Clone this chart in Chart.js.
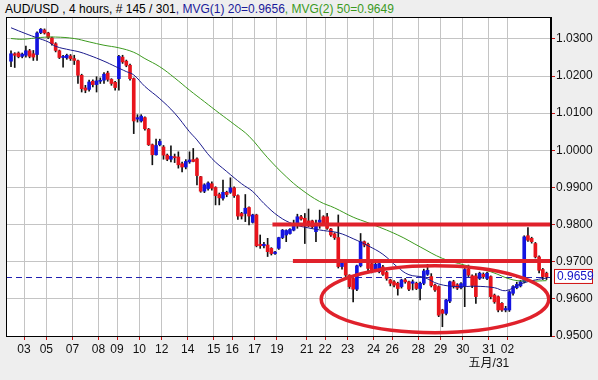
<!DOCTYPE html>
<html>
<head>
<meta charset="utf-8">
<script src="https://cdn.jsdelivr.net/npm/chart.js@4/dist/chart.umd.min.js"></script>
<style>
  body { margin: 0; background: #eeeeee; }
  #wrap { position: relative; width: 598px; height: 380px; }
  #title { position: absolute; left: 5px; top: 2px; font: 12px 'Liberation Sans', Arial, sans-serif; white-space: nowrap; }
  #plotbg { position: absolute; left: 6px; top: 17px; width: 545px; height: 319px; background: #ffffff; }
  canvas { position: absolute; left: 0; top: 0; }
</style>
</head>
<body>
<div id="wrap">
  <div id="title"><span style="color:#000">AUD/USD , 4 hours, # 145 / 301</span><span style="color:#1a1a9a">, MVG(1) 20=0.9656</span><span style="color:#3c9a1e">, MVG(2) 50=0.9649</span></div>
  <div id="plotbg"></div>
  <canvas id="c" width="598" height="380"></canvas>
</div>
<script>
// candles (4h bars)
const opens = [1.0240,1.0260,1.0262,1.0253,1.0256,1.0268,1.0260,1.0258,1.0317,1.0324,
  1.0316,1.0303,1.0287,1.0268,1.0250,1.0249,1.0254,1.0247,1.0241,1.0202,
  1.0168,1.0164,1.0186,1.0177,1.0186,1.0189,1.0208,1.0191,1.0183,1.0193,
  1.0251,1.0240,1.0229,1.0193,1.0084,1.0079,1.0088,1.0057,1.0015,0.9988,
  1.0015,1.0009,0.9987,0.9976,0.9983,0.9982,0.9964,0.9955,0.9969,0.9975,
  0.9977,0.9929,0.9890,0.9897,0.9910,0.9900,0.9881,0.9871,0.9887,0.9887,
  0.9899,0.9878,0.9830,0.9830,0.9846,0.9806,0.9826,0.9747,0.9743,0.9745,
  0.9736,0.9722,0.9736,0.9765,0.9772,0.9776,0.9785,0.9801,0.9821,0.9817,
  0.9810,0.9810,0.9781,0.9806,0.9821,0.9821,0.9788,0.9775,0.9765,0.9687,
  0.9696,0.9664,0.9655,0.9626,0.9689,0.9754,0.9747,0.9695,0.9677,0.9673,
  0.9686,0.9671,0.9651,0.9646,0.9642,0.9633,0.9651,0.9646,0.9642,0.9642,
  0.9628,0.9642,0.9666,0.9660,0.9637,0.9633,0.9570,0.9561,0.9594,0.9646,
  0.9638,0.9630,0.9633,0.9680,0.9662,0.9662,0.9655,0.9666,0.9655,0.9660,
  0.9610,0.9606,0.9588,0.9570,0.9570,0.9615,0.9630,0.9635,0.9646,0.9770,
  0.9763,0.9749,0.9713,0.9679,0.9669];
const highs = [1.0268,1.0263,1.0265,1.0262,1.0281,1.0272,1.0269,1.0319,1.0328,1.0327,
  1.0318,1.0305,1.0290,1.0270,1.0256,1.0259,1.0258,1.0256,1.0243,1.0205,
  1.0175,1.0189,1.0190,1.0198,1.0195,1.0209,1.0213,1.0193,1.0186,1.0256,
  1.0256,1.0243,1.0232,1.0195,1.0096,1.0096,1.0090,1.0059,1.0017,1.0030,
  1.0030,1.0013,0.9990,1.0012,0.9990,0.9996,0.9968,0.9975,0.9996,1.0005,
  0.9980,0.9930,0.9910,0.9915,0.9915,0.9902,0.9885,0.9920,0.9890,0.9926,
  0.9902,0.9880,0.9833,0.9881,0.9848,0.9828,0.9828,0.9772,0.9752,0.9763,
  0.9738,0.9728,0.9766,0.9787,0.9786,0.9789,0.9812,0.9828,0.9825,0.9830,
  0.9842,0.9812,0.9812,0.9839,0.9824,0.9830,0.9790,0.9778,0.9826,0.9703,
  0.9698,0.9665,0.9657,0.9691,0.9776,0.9756,0.9750,0.9698,0.9700,0.9700,
  0.9690,0.9674,0.9653,0.9649,0.9645,0.9653,0.9655,0.9648,0.9651,0.9645,
  0.9645,0.9680,0.9693,0.9668,0.9640,0.9635,0.9572,0.9599,0.9648,0.9650,
  0.9641,0.9644,0.9682,0.9691,0.9665,0.9668,0.9672,0.9670,0.9672,0.9662,
  0.9613,0.9608,0.9590,0.9580,0.9622,0.9636,0.9645,0.9650,0.9770,0.9792,
  0.9766,0.9752,0.9716,0.9682,0.9672];
const lows = [1.0225,1.0223,1.0249,1.0249,1.0251,1.0249,1.0242,1.0242,1.0314,1.0313,
  1.0301,1.0283,1.0265,1.0247,1.0224,1.0245,1.0242,1.0231,1.0180,1.0157,
  1.0155,1.0159,1.0171,1.0157,1.0180,1.0180,1.0186,1.0175,1.0162,1.0162,
  1.0234,1.0225,1.0189,1.0045,1.0076,1.0076,1.0054,1.0013,0.9961,0.9987,
  1.0012,0.9976,0.9972,0.9969,0.9967,0.9952,0.9942,0.9950,0.9965,0.9969,
  0.9907,0.9887,0.9886,0.9893,0.9893,0.9853,0.9853,0.9866,0.9875,0.9884,
  0.9873,0.9814,0.9815,0.9808,0.9799,0.9804,0.9740,0.9736,0.9737,0.9714,
  0.9718,0.9720,0.9733,0.9762,0.9754,0.9774,0.9783,0.9790,0.9812,0.9749,
  0.9794,0.9790,0.9754,0.9790,0.9800,0.9787,0.9768,0.9760,0.9683,0.9680,
  0.9660,0.9628,0.9592,0.9622,0.9686,0.9740,0.9673,0.9670,0.9673,0.9670,
  0.9663,0.9650,0.9635,0.9632,0.9610,0.9629,0.9642,0.9622,0.9624,0.9625,
  0.9597,0.9638,0.9663,0.9632,0.9620,0.9552,0.9525,0.9557,0.9590,0.9629,
  0.9625,0.9627,0.9579,0.9660,0.9630,0.9588,0.9652,0.9655,0.9652,0.9600,
  0.9588,0.9565,0.9566,0.9565,0.9566,0.9610,0.9627,0.9632,0.9643,0.9755,
  0.9750,0.9710,0.9670,0.9652,0.9652];
const closes = [1.0260,1.0256,1.0252,1.0259,1.0268,1.0253,1.0251,1.0316,1.0326,1.0316,
  1.0304,1.0287,1.0269,1.0250,1.0253,1.0256,1.0247,1.0242,1.0202,1.0166,
  1.0162,1.0184,1.0177,1.0187,1.0188,1.0205,1.0191,1.0180,1.0169,1.0253,
  1.0238,1.0229,1.0193,1.0079,1.0088,1.0092,1.0058,1.0015,0.9988,1.0013,
  1.0024,0.9987,0.9976,0.9984,0.9980,0.9961,0.9955,0.9970,0.9974,0.9970,
  0.9932,0.9890,0.9907,0.9912,0.9898,0.9878,0.9872,0.9887,0.9881,0.9899,
  0.9878,0.9823,0.9823,0.9844,0.9823,0.9826,0.9743,0.9743,0.9747,0.9727,
  0.9722,0.9726,0.9765,0.9785,0.9784,0.9787,0.9803,0.9821,0.9815,0.9803,
  0.9801,0.9794,0.9801,0.9812,0.9803,0.9790,0.9772,0.9765,0.9687,0.9700,
  0.9664,0.9633,0.9626,0.9689,0.9754,0.9745,0.9682,0.9677,0.9693,0.9695,
  0.9666,0.9655,0.9642,0.9637,0.9628,0.9651,0.9646,0.9626,0.9646,0.9628,
  0.9642,0.9675,0.9677,0.9636,0.9624,0.9556,0.9561,0.9597,0.9646,0.9633,
  0.9629,0.9641,0.9679,0.9664,0.9636,0.9606,0.9669,0.9660,0.9669,0.9606,
  0.9592,0.9570,0.9570,0.9574,0.9619,0.9633,0.9639,0.9646,0.9767,0.9758,
  0.9754,0.9713,0.9677,0.9660,0.9659];

// moving averages (bar index, value)
const mvg20X = [0,4,7,10,12,16,18,21,25,28,31,33,36,40,44,48,50,54,58,62,65,68,72,76,80,84,88,92,96,100,104,107,111,115,120,125,130,133,137,141,144];
const mvg20Y = [1.0330,1.0314,1.0303,1.0292,1.0280,1.0270,1.0266,1.0256,1.0240,1.0226,1.0212,1.0203,1.0172,1.0139,1.0100,1.0050,1.0028,0.9978,0.9943,0.9910,0.9889,0.9857,0.9822,0.9801,0.9791,0.9784,0.9778,0.9762,0.9743,0.9720,0.9685,0.9665,0.9658,0.9640,0.9633,0.9634,0.9630,0.9622,0.9640,0.9651,0.9656];
const mvg50X = [0,3,8,12,17,21,25,29,33,36,40,44,48,52,56,60,64,69,74,78,83,87,92,96,104,110,116,122,129,135,140,144];
const mvg50Y = [1.0301,1.0299,1.0304,1.0305,1.0301,1.0292,1.0283,1.0276,1.0264,1.0247,1.0225,1.0195,1.0162,1.0131,1.0100,1.0070,1.0038,0.9980,0.9929,0.9895,0.9862,0.9845,0.9820,0.9805,0.9772,0.9740,0.9709,0.9691,0.9673,0.9651,0.9648,0.9649];

// axis labels
const dayTickPos = [3.5,9.5,16.5,23.5,28.5,34.5,40.5,47.5,54.5,59.5,65.5,71.5,79.5,84.5,90.5,97.5,102.5,109.5,115.5,121.5,128.5,133.5];
const dayTickText = ['03','05','07','08','09','10','12','14','15','16','17','19','21','22','23','24','26','28','29','30','31','02'];
const monthLabel = '五月/31';
const monthTickIdx = 20;
const priceTicks = [0.95,0.96,0.97,0.98,0.99,1.00,1.01,1.02,1.03];
const lastPrice = 0.9659;

// hand drawn marks: support/resistance levels and the ellipse
const levels = [{ price: 0.9800, from: 70.3 }, { price: 0.9702, from: 75.8 }];
const ring = { x: 114, y: 0.9599, rx: 30.6, ry: 0.0090 };

const RED = '#e8141c', BLUE = '#1414e0';
const GRID = '#c4c4c4';
const idx = closes.map((_, i) => i);

const marks = {
  id: 'marks',
  beforeDatasetsDraw(chart) {
    const { ctx, chartArea: a, scales: { y } } = chart;
    const py = Math.round(y.getPixelForValue(lastPrice)) + 0.5;
    ctx.save();
    ctx.strokeStyle = '#2020b0';
    ctx.lineWidth = 1;
    ctx.setLineDash([6, 4]);
    ctx.beginPath();
    ctx.moveTo(a.left, py);
    ctx.lineTo(a.right, py);
    ctx.stroke();
    ctx.restore();
  },
  afterDatasetsDraw(chart) {
    const { ctx, chartArea: a, scales: { x, y } } = chart;
    ctx.save();
    ctx.strokeStyle = '#e0212b';
    ctx.lineWidth = 4;
    levels.forEach(l => {
      const py = y.getPixelForValue(l.price);
      ctx.beginPath();
      ctx.moveTo(x.getPixelForValue(l.from), py);
      ctx.lineTo(a.right, py);
      ctx.stroke();
    });
    const cx = x.getPixelForValue(ring.x), cy = y.getPixelForValue(ring.y);
    const rx = x.getPixelForValue(ring.x + ring.rx) - cx;
    const ry = cy - y.getPixelForValue(ring.y + ring.ry);
    ctx.lineWidth = 3.5;
    ctx.beginPath();
    ctx.ellipse(cx, cy, rx, ry, 0, 0, Math.PI * 2);
    ctx.stroke();
    ctx.restore();
  },
  afterDraw(chart) {
    const { ctx, chartArea: a, scales: { y } } = chart;
    ctx.save();
    ctx.strokeStyle = '#000';
    ctx.lineWidth = 1;
    ctx.strokeRect(a.left + 0.5, a.top + 0.5, a.right - a.left - 1, a.bottom - a.top);
    // last price box
    const py = y.getPixelForValue(lastPrice);
    ctx.fillStyle = '#fff';
    ctx.fillRect(554.5, py - 7.5, 38, 14);
    ctx.strokeStyle = '#d01010';
    ctx.strokeRect(554.5, py - 7.5, 38, 14);
    ctx.fillStyle = '#1414c8';
    ctx.font = "12px 'Liberation Sans', Arial, sans-serif";
    ctx.textBaseline = 'middle';
    ctx.fillText(lastPrice.toFixed(4), 557, py);
    ctx.restore();
  }
};

new Chart(document.getElementById('c'), {
  type: 'bar',
  data: {
    datasets: [
      {
        type: 'line', label: 'MVG(1) 20', order: 0,
        data: mvg20X.map((v, i) => ({ x: v, y: mvg20Y[i] })),
        borderColor: '#1a1a8c', borderWidth: 1, pointRadius: 0, tension: 0.4
      },
      {
        type: 'line', label: 'MVG(2) 50', order: 0,
        data: mvg50X.map((v, i) => ({ x: v, y: mvg50Y[i] })),
        borderColor: '#3c9a1e', borderWidth: 1, pointRadius: 0, tension: 0.4
      },
      {
        label: 'body', order: 1,
        data: idx.map(i => ({ x: i, y: [opens[i], closes[i]] })),
        backgroundColor: idx.map(i => closes[i] >= opens[i] ? BLUE : RED),
        barThickness: 3, minBarLength: 1, grouped: false
      },
      {
        label: 'wick', order: 2,
        data: idx.map(i => ({ x: i, y: [lows[i], highs[i]] })),
        backgroundColor: '#111111',
        barThickness: 1, grouped: false
      }
    ]
  },
  options: {
    responsive: false,
    animation: false,
    layout: { padding: { left: 6, top: 17, right: 0, bottom: 0 } },
    plugins: { legend: { display: false }, tooltip: { enabled: false } },
    scales: {
      x: {
        type: 'linear', min: -1.35, max: 145.2, offset: false,
        afterBuildTicks: axis => { axis.ticks = dayTickPos.map(v => ({ value: v })); },
        afterFit: axis => { axis.height = 44; },
        ticks: {
          autoSkip: false, maxRotation: 0, padding: 2, color: '#111',
          font: { family: "'Liberation Sans', Arial, 'Noto Sans CJK SC', sans-serif", size: 12 },
          callback: (v, i) => i === monthTickIdx ? [dayTickText[i], monthLabel] : dayTickText[i]
        },
        grid: { color: GRID, lineWidth: 1, tickColor: '#c81414', tickLength: 4, offset: false },
        border: { color: '#000' }
      },
      y: {
        position: 'right', min: 0.95, max: 1.0359,
        afterBuildTicks: axis => { axis.ticks = priceTicks.map(v => ({ value: v })); },
        afterFit: axis => { axis.width = 47; },
        ticks: {
          padding: 1, color: '#111',
          font: { family: "'Liberation Sans', Arial, sans-serif", size: 12 },
          callback: v => v.toFixed(4)
        },
        grid: { color: GRID, lineWidth: 1, tickColor: '#c81414', tickLength: 4 },
        border: { color: '#000' }
      }
    }
  },
  plugins: [marks]
});
</script>
</body>
</html>
